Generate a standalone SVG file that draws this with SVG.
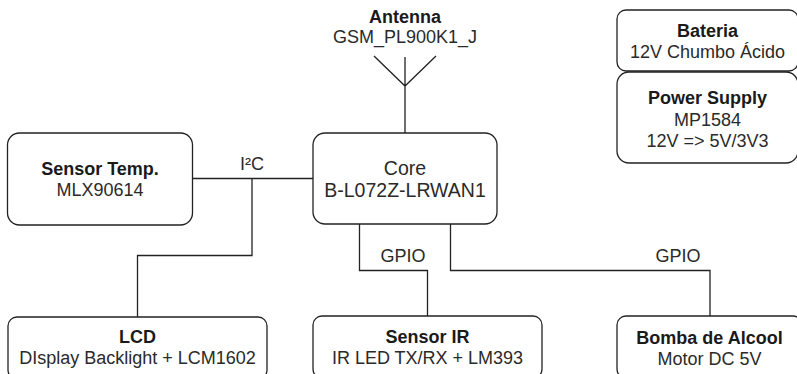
<svg xmlns="http://www.w3.org/2000/svg" width="797" height="374" viewBox="0 0 797 374">
<style>
.box{fill:#fff;stroke:#222;stroke-width:1.3}
.ln{fill:none;stroke:#222;stroke-width:1.3}
text{font-family:"Liberation Sans",Arial,sans-serif;font-size:18px;fill:#2a2a2a;text-anchor:middle}
.b{font-weight:bold;fill:#1a1a1a}
.core{font-size:19.5px}
</style>
<rect width="797" height="374" fill="#fff"/>
<g id="connectors">
<path class="ln" d="M192 178.5H313"/>
<path class="ln" d="M252 178.5V255.5H137.5V317"/>
<path class="ln" d="M359.5 224V270.5H427.5V316"/>
<path class="ln" d="M450.5 224V270.5H710V316"/>
<text x="252" y="170">I²C</text>
<text x="403" y="262">GPIO</text>
<text x="678" y="262">GPIO</text>
</g>
<g id="antenna">
<path class="ln" d="M405 57V133M374 56L405 86L436 56"/>
<text class="b" x="405" y="23">Antenna</text>
<text x="405" y="43">GSM_PL900K1_J</text>
</g>
<g id="core">
<rect class="box" x="313" y="133" width="184" height="91" rx="12"/>
<text class="core" x="405" y="175">Core</text>
<text class="core" x="405" y="197">B-L072Z-LRWAN1</text>
</g>
<g id="sensor-temp">
<rect class="box" x="7.5" y="133" width="185" height="92" rx="12"/>
<text class="b" x="100" y="175">Sensor Temp.</text>
<text x="100" y="196">MLX90614</text>
</g>
<g id="bateria">
<rect class="box" x="617" y="10" width="181" height="61" rx="9"/>
<text class="b" x="707.5" y="37">Bateria</text>
<text x="707.5" y="58">12V Chumbo Ácido</text>
</g>
<g id="power-supply">
<rect class="box" x="617" y="72" width="181" height="91" rx="12"/>
<text class="b" x="707.5" y="104">Power Supply</text>
<text x="707.5" y="125.5">MP1584</text>
<text x="707.5" y="147">12V =&gt; 5V/3V3</text>
</g>
<g id="lcd">
<rect class="box" x="8" y="317" width="259" height="62" rx="9"/>
<text class="b" x="137.5" y="343">LCD</text>
<text x="137.5" y="364">DIsplay Backlight + LCM1602</text>
</g>
<g id="sensor-ir">
<rect class="box" x="313" y="316" width="229" height="62" rx="9"/>
<text class="b" x="427.5" y="343">Sensor IR</text>
<text x="427.5" y="364">IR LED TX/RX + LM393</text>
</g>
<g id="bomba">
<rect class="box" x="617" y="316" width="185" height="62" rx="9"/>
<text class="b" x="709.5" y="344">Bomba de Alcool</text>
<text x="709.5" y="365">Motor DC 5V</text>
</g>
</svg>
